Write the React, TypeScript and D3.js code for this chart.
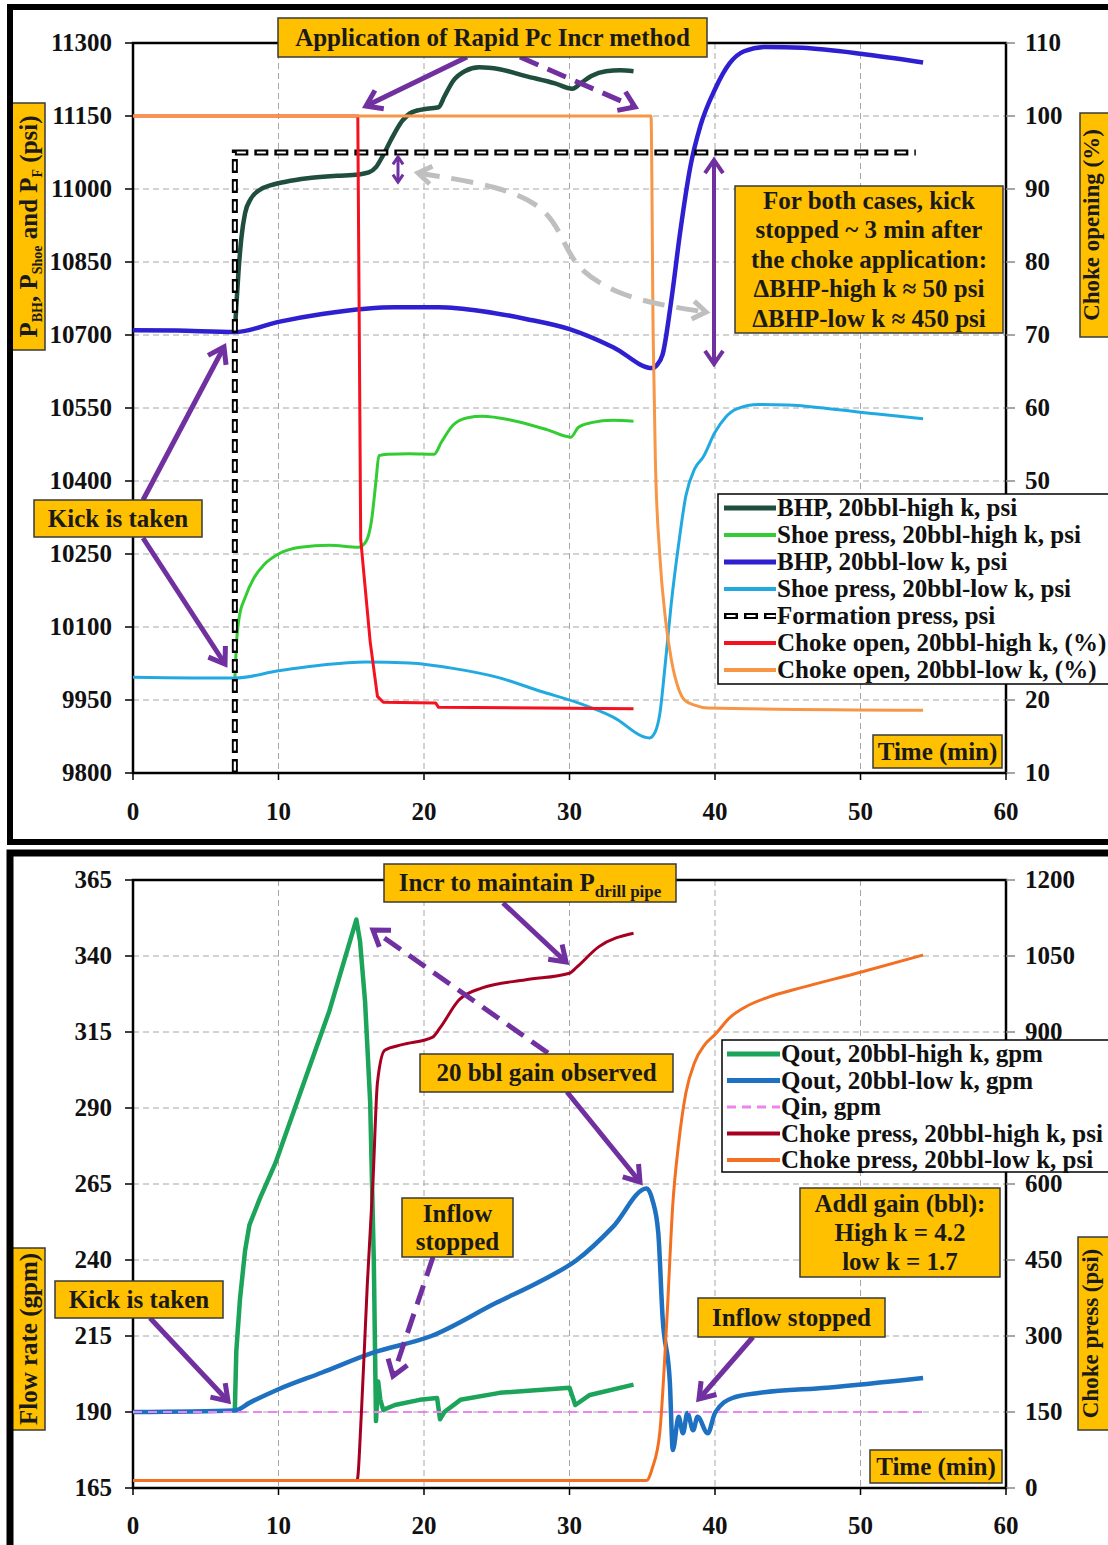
import React from 'react';
import * as d3 from 'd3';

type P = [number, number];

// ---------------- DATA ----------------
const xTicks = [0, 10, 20, 30, 40, 50, 60];
const topLeftTicks = [9800, 9950, 10100, 10250, 10400, 10550, 10700, 10850, 11000, 11150, 11300];
const topRightTicks = [10, 20, 30, 40, 50, 60, 70, 80, 90, 100, 110];
const botLeftTicks = [165, 190, 215, 240, 265, 290, 315, 340, 365];
const botRightTicks = [0, 150, 300, 450, 600, 750, 900, 1050, 1200];

// Top panel (psi, left axis)
const bhpHigh: P[] = [[7, 10704], [7.1, 10760], [7.25, 10830], [7.45, 10900], [7.7, 10950], [8.1, 10980], [8.7, 10998], [9.5, 11008], [10.5, 11015], [12, 11022], [14, 11027], [15.5, 11030], [16.2, 11034], [16.7, 11045], [17.2, 11070], [17.8, 11105], [18.5, 11140], [19.2, 11158], [20.2, 11165], [21.0, 11168], [21.4, 11190], [22.0, 11222], [22.8, 11242], [23.8, 11250], [25.2, 11246], [27, 11232], [29, 11217], [30.2, 11206], [30.8, 11218], [31.5, 11232], [32.5, 11242], [33.5, 11244], [34.4, 11242]];
const shoeHigh: P[] = [[7, 9993], [7.1, 10060], [7.3, 10120], [7.7, 10160], [8.3, 10200], [9, 10228], [10, 10250], [11.5, 10264], [13.5, 10268], [15.5, 10264], [16.0, 10275], [16.4, 10320], [16.7, 10400], [16.9, 10452], [17.5, 10455], [19, 10456], [20.7, 10455], [21.2, 10480], [22, 10515], [23, 10530], [24, 10533], [26, 10525], [28.5, 10505], [30.1, 10490], [30.6, 10510], [31.5, 10520], [33, 10525], [34.4, 10523]];
const bhpLow: P[] = [[0, 10710], [3, 10709], [7, 10706], [10, 10727], [13, 10743], [16, 10754], [18, 10757], [21, 10757], [24, 10749], [27, 10733], [30, 10712], [33, 10675], [35.7, 10632], [36.0, 10638], [36.4, 10660], [37.0, 10772], [37.6, 10910], [38.3, 11045], [39.0, 11130], [40, 11205], [41, 11258], [42, 11283], [43.5, 11292], [46, 11290], [50, 11278], [54.3, 11260]];
const shoeLow: P[] = [[0, 9997], [7, 9995], [10, 10010], [13, 10022], [16, 10028], [19, 10026], [22, 10015], [25, 9997], [28, 9968], [30.5, 9945], [33, 9915], [35.5, 9872], [35.9, 9885], [36.2, 9920], [36.6, 10030], [37.0, 10150], [37.5, 10270], [38, 10370], [38.6, 10425], [39.2, 10450], [40, 10500], [40.7, 10530], [41.5, 10548], [43, 10557], [45, 10556], [48, 10548], [51, 10538], [54.3, 10528]];
const formation: P[] = [[7, 9800], [7, 11075], [53.8, 11075]];
// Top panel (%, right axis)
const chokeHigh: P[] = [[0, 100], [15.45, 100], [15.65, 42], [16.3, 28], [16.8, 20.5], [17.2, 19.7], [20.8, 19.6], [21.0, 19.0], [34.4, 18.8]];
const chokeLow: P[] = [[0, 100], [35.6, 100], [35.75, 70], [35.9, 53], [36.2, 40], [36.6, 31], [37.0, 25.5], [37.5, 21.5], [37.9, 20.0], [38.6, 19.3], [39.5, 18.9], [54.3, 18.6]];

// Bottom panel (gpm, left axis)
const qoutHigh: P[] = [[7, 190.7], [7.1, 210], [7.35, 227], [7.7, 243], [8, 251.5], [8.7, 260], [9.8, 272], [11.5, 295], [13.5, 322], [15.35, 352], [15.6, 345], [15.95, 325], [16.3, 292], [16.55, 240], [16.7, 187], [16.85, 200], [17.0, 194], [17.2, 190.7], [18, 192.3], [19.7, 194], [20.9, 194.6], [21.1, 187.6], [21.4, 190], [22.5, 194], [25.2, 196.3], [30, 198], [30.4, 192.3], [31.4, 195.6], [34.4, 199]];
const qoutLow: P[] = [[0, 190], [7, 190.5], [8, 193], [10, 197.5], [13, 203], [16.5, 209.5], [20.5, 215], [25, 226], [28, 233], [30.5, 240], [33, 251], [35.3, 263.5], [35.7, 259.7], [36.1, 249], [36.4, 221], [36.9, 199.5], [37.1, 177.5], [37.5, 188.4], [37.8, 183], [38.1, 189.7], [38.5, 184], [38.8, 188.4], [39.5, 183], [40, 189.7], [41.2, 194.6], [43.1, 196.3], [47.7, 198], [54.3, 201.2]];
const qin: P[] = [[0, 190], [54.3, 190]];
// Bottom panel (psi, right axis)
const chokePressHigh: P[] = [[0, 15], [15.4, 15], [15.7, 150], [16.1, 400], [16.5, 610], [16.8, 800], [17.3, 864], [18.5, 875], [20.6, 890], [21.1, 908], [22.4, 963], [24, 987], [27, 1003], [30, 1016], [30.5, 1028], [32, 1068], [34.4, 1095]];
const chokePressLow: P[] = [[0, 15], [35.3, 15], [35.7, 40], [36.2, 108], [36.7, 337], [37.1, 560], [37.5, 680], [38, 780], [38.6, 840], [39.3, 875], [40, 895], [41, 928], [42, 948], [44, 972], [46, 988], [50, 1018], [54.3, 1052]];

// ---------------- STYLE / LAYOUT ----------------
const FONT = '"Liberation Serif", "Times New Roman", serif';
const FS = 25;
const C = {
  bhpHigh: '#1F4E3D', shoeHigh: '#33CC33', bhpLow: '#2E1FD1', shoeLow: '#22AAE0',
  chokeHigh: '#F5111F', chokeLow: '#F79646',
  qoutHigh: '#1BA45A', qoutLow: '#1E70C0', qin: '#EE82EE', cpHigh: '#A50021', cpLow: '#F36F21',
  box: '#FFC000', boxStroke: '#3A3A3A', purple: '#7030A0', grid: '#A6A6A6', gray: '#BFBFBF',
};

const X0 = 133, X1 = 1006;
const TOP = { y0: 43, y1: 773 };
const BOT = { y0: 880, y1: 1488 };
const TOP_LEGEND = { x0: 718, y0: 494, w: 400, h: 190 };
const BOT_LEGEND = { x0: 722, y0: 1040, w: 400, h: 132 };

const x = d3.scaleLinear().domain([0, 60]).range([X0, X1]);
const topY = d3.scaleLinear().domain([9800, 11300]).range([TOP.y1, TOP.y0]);
const topYR = d3.scaleLinear().domain([10, 110]).range([TOP.y1, TOP.y0]);
const botY = d3.scaleLinear().domain([165, 365]).range([BOT.y1, BOT.y0]);
const botYR = d3.scaleLinear().domain([0, 1200]).range([BOT.y1, BOT.y0]);

function path(data: P[], y: d3.ScaleLinear<number, number>, curve: d3.CurveFactory = d3.curveMonotoneX) {
  return d3.line<P>().x(d => x(d[0])).y(d => y(d[1])).curve(curve)(data) || '';
}

function head(px: number, py: number, ang: number, size: number) {
  const a1 = ang + Math.PI - 0.6, a2 = ang + Math.PI + 0.6;
  return `M${px + size * Math.cos(a1)},${py + size * Math.sin(a1)}L${px},${py}L${px + size * Math.cos(a2)},${py + size * Math.sin(a2)}`;
}

function Arrow({ x1, y1, x2, y2, color = C.purple, w = 5, dash, size = 18, start = false, end = true }:
  { x1: number; y1: number; x2: number; y2: number; color?: string; w?: number; dash?: string; size?: number; start?: boolean; end?: boolean }) {
  const ang = Math.atan2(y2 - y1, x2 - x1);
  return (
    <g stroke={color} strokeWidth={w} fill="none">
      <line x1={x1} y1={y1} x2={x2} y2={y2} strokeDasharray={dash} />
      {end && <path d={head(x2, y2, ang, size)} strokeLinejoin="miter" />}
      {start && <path d={head(x1, y1, ang + Math.PI, size)} strokeLinejoin="miter" />}
    </g>
  );
}

function CurvedArrow({ pts, color, w, dash, size }: { pts: P[]; color: string; w: number; dash: string; size: number }) {
  const d = d3.line<P>().curve(d3.curveBasis)(pts) || '';
  const n = pts.length;
  const aEnd = Math.atan2(pts[n - 1][1] - pts[n - 2][1], pts[n - 1][0] - pts[n - 2][0]);
  const aStart = Math.atan2(pts[0][1] - pts[1][1], pts[0][0] - pts[1][0]);
  return (
    <g stroke={color} strokeWidth={w} fill="none">
      <path d={d} strokeDasharray={dash} />
      <path d={head(pts[n - 1][0], pts[n - 1][1], aEnd, size)} />
      <path d={head(pts[0][0], pts[0][1], aStart, size)} />
    </g>
  );
}

function Box({ x0, y0, w, h, lines, pitch = 29, fs = FS }: { x0: number; y0: number; w: number; h: number; lines: React.ReactNode[]; pitch?: number; fs?: number }) {
  const cy = y0 + h / 2;
  const n = lines.length;
  return (
    <g>
      <rect x={x0} y={y0} width={w} height={h} fill={C.box} stroke={C.boxStroke} strokeWidth={1.5} />
      {lines.map((l, i) => (
        <text key={i} x={x0 + w / 2} y={cy + (i - (n - 1) / 2) * pitch + fs * 0.33} textAnchor="middle"
          fontFamily={FONT} fontWeight="bold" fontSize={fs} fill="#1a1a1a">{l}</text>
      ))}
    </g>
  );
}

function VBox({ x0, y0, w, h, off = 8, fs = FS, children }: { x0: number; y0: number; w: number; h: number; off?: number; fs?: number; children: React.ReactNode }) {
  const cx = x0 + w / 2, cy = y0 + h / 2;
  return (
    <g>
      <rect x={x0} y={y0} width={w} height={h} fill={C.box} stroke={C.boxStroke} strokeWidth={1.5} />
      <text transform={`translate(${cx + off},${cy}) rotate(-90)`} textAnchor="middle" fontFamily={FONT}
        fontWeight="bold" fontSize={fs} fill="#1a1a1a">{children}</text>
    </g>
  );
}

function FormationLine({ d }: { d: string }) {
  return (
    <g fill="none">
      <path d={d} stroke="#000" strokeWidth={6} strokeDasharray="14 6" />
      <path d={d} stroke="#fff" strokeWidth={2.2} strokeDasharray="9 11" strokeDashoffset={-2.5} />
    </g>
  );
}

type LegendItem = { label: string; color: string; w: number; dash?: string; formation?: boolean };
type Rect = { x0: number; y0: number; w: number; h: number };

function Legend({ r, items, pitch, sx0, sx1, tx }: { r: Rect; items: LegendItem[]; pitch: number; sx0: number; sx1: number; tx: number }) {
  return (
    <g>
      <rect x={r.x0} y={r.y0} width={r.w} height={r.h} fill="#fff" stroke="#000" strokeWidth={1.5} />
      {items.map((it, i) => {
        const cy = r.y0 + 14 + i * pitch;
        return (
          <g key={i}>
            {it.formation
              ? <FormationLine d={`M${sx0},${cy}L${sx1},${cy}`} />
              : <line x1={sx0} x2={sx1} y1={cy} y2={cy} stroke={it.color} strokeWidth={it.w} strokeDasharray={it.dash} />}
            <text x={tx} y={cy + 8} fontFamily={FONT} fontWeight="bold" fontSize={FS} fill="#111">{it.label}</text>
          </g>
        );
      })}
    </g>
  );
}

function Frame({ yL, yR, leftTicks, rightTicks, y0, y1, xLabelY, legend }: {
  yL: d3.ScaleLinear<number, number>; yR: d3.ScaleLinear<number, number>; leftTicks: number[]; rightTicks: number[]; y0: number; y1: number; xLabelY: number; legend: Rect;
}) {
  // right-axis labels lying underneath the legend box are hidden (as in the source figure)
  const visibleRight = rightTicks.filter(t => {
    const yy = yR(t);
    return !(yy - 8 > legend.y0 && yy + 8 < legend.y0 + legend.h);
  });
  return (
    <g>
      {leftTicks.slice(1, -1).map(t => (
        <line key={'h' + t} x1={X0} x2={X1} y1={yL(t)} y2={yL(t)} stroke={C.grid} strokeWidth={1} strokeDasharray="6 4" />
      ))}
      {xTicks.slice(1, -1).map(t => (
        <line key={'v' + t} x1={x(t)} x2={x(t)} y1={y0} y2={y1} stroke={C.grid} strokeWidth={1} strokeDasharray="6 4" />
      ))}
      <rect x={X0} y={y0} width={X1 - X0} height={y1 - y0} fill="none" stroke="#000" strokeWidth={2.5} />
      {leftTicks.map(t => (
        <g key={'l' + t}>
          <line x1={X0 - 8} x2={X0} y1={yL(t)} y2={yL(t)} stroke="#000" strokeWidth={1.5} />
          <text x={112} y={yL(t) + 8} textAnchor="end" fontFamily={FONT} fontWeight="bold" fontSize={FS} fill="#111">{t}</text>
        </g>
      ))}
      {rightTicks.map(t => (
        <line key={'rt' + t} x1={X1} x2={X1 + 9} y1={yR(t)} y2={yR(t)} stroke="#888" strokeWidth={1.5} />
      ))}
      {visibleRight.map(t => (
        <text key={'r' + t} x={1025} y={yR(t) + 8} textAnchor="start" fontFamily={FONT} fontWeight="bold" fontSize={FS} fill="#111">{t}</text>
      ))}
      {xTicks.map(t => (
        <g key={'x' + t}>
          <line x1={x(t)} x2={x(t)} y1={y1} y2={y1 + 7} stroke="#000" strokeWidth={1.5} />
          <text x={x(t)} y={xLabelY} textAnchor="middle" fontFamily={FONT} fontWeight="bold" fontSize={FS} fill="#111">{t}</text>
        </g>
      ))}
    </g>
  );
}

export default function App() {
  const topLegend: LegendItem[] = [
    { label: 'BHP, 20bbl-high k, psi', color: C.bhpHigh, w: 5 },
    { label: 'Shoe press, 20bbl-high k, psi', color: C.shoeHigh, w: 4 },
    { label: 'BHP, 20bbl-low k, psi', color: C.bhpLow, w: 5 },
    { label: 'Shoe press, 20bbl-low k, psi', color: C.shoeLow, w: 4 },
    { label: 'Formation press, psi', color: '#000', w: 4, formation: true },
    { label: 'Choke open, 20bbl-high k, (%)', color: C.chokeHigh, w: 4 },
    { label: 'Choke open, 20bbl-low k, (%)', color: C.chokeLow, w: 4 },
  ];
  const botLegend: LegendItem[] = [
    { label: 'Qout, 20bbl-high k, gpm', color: C.qoutHigh, w: 5 },
    { label: 'Qout, 20bbl-low k, gpm', color: C.qoutLow, w: 5 },
    { label: 'Qin, gpm', color: C.qin, w: 3, dash: '9 6' },
    { label: 'Choke press, 20bbl-high k, psi', color: C.cpHigh, w: 4 },
    { label: 'Choke press, 20bbl-low k, psi', color: C.cpLow, w: 4 },
  ];

  return (
    <div style={{ position: 'absolute', left: 0, top: 0, width: 1108, height: 1545, overflow: 'hidden', background: '#fff' }}>
      <svg width={1108} height={1545} viewBox="0 0 1108 1545">
        <rect x={0} y={0} width={1108} height={1545} fill="#fff" />

        {/* ========== TOP PANEL ========== */}
        <Frame yL={topY} yR={topYR} leftTicks={topLeftTicks} rightTicks={topRightTicks} y0={TOP.y0} y1={TOP.y1} xLabelY={820} legend={TOP_LEGEND} />
        <g fill="none" strokeLinejoin="round">
          <path d={path(bhpHigh, topY)} stroke={C.bhpHigh} strokeWidth={4.5} />
          <path d={path(shoeHigh, topY)} stroke={C.shoeHigh} strokeWidth={3} />
          <path d={path(bhpLow, topY)} stroke={C.bhpLow} strokeWidth={4.5} />
          <path d={path(shoeLow, topY)} stroke={C.shoeLow} strokeWidth={3} />
        </g>
        <FormationLine d={path(formation, topY, d3.curveLinear)} />
        <g fill="none" strokeLinejoin="round">
          <path d={path(chokeHigh, topYR, d3.curveLinear)} stroke={C.chokeHigh} strokeWidth={3} />
          <path d={path(chokeLow, topYR)} stroke={C.chokeLow} strokeWidth={3} />
        </g>

        <Legend r={TOP_LEGEND} items={topLegend} pitch={27} sx0={724} sx1={776} tx={777} />

        {/* top annotations */}
        <Arrow x1={467} y1={57} x2={366} y2={106} />
        <Arrow x1={520} y1={57} x2={635} y2={107} dash="20 10" />
        <Arrow x1={398} y1={157} x2={398} y2={182} w={3} size={9} start />
        <Arrow x1={714} y1={160} x2={714} y2={364} w={4} size={16} start />
        <CurvedArrow pts={[[418, 173], [500, 186], [548, 208], [565, 245], [580, 272], [620, 295], [665, 306], [706, 312]]} color={C.gray} w={5} dash="22 12" size={16} />
        <Arrow x1={143} y1={500} x2={224} y2={347} />
        <Arrow x1={143} y1={538} x2={225} y2={664} />

        <Box x0={278} y0={18} w={429} h={39} lines={['Application of Rapid Pc Incr method']} />
        <Box x0={735} y0={186} w={268} h={147} pitch={29.5} lines={['For both cases, kick', 'stopped ~ 3 min after', 'the choke application:', '\u0394BHP-high k \u2248 50 psi', '\u0394BHP-low k \u2248 450 psi']} />
        <Box x0={34} y0={500} w={168} h={37} lines={['Kick is taken']} />
        <Box x0={873} y0={735} w={129} h={33} lines={['Time (min)']} />
        <VBox x0={12} y0={103} w={33} h={247}>
          {'P'}<tspan fontSize={14} dy={5}>{'BH'}</tspan><tspan dy={-5}>{', P'}</tspan><tspan fontSize={14} dy={5}>{'Shoe'}</tspan><tspan dy={-5}>{' and P'}</tspan><tspan fontSize={14} dy={5}>{'F'}</tspan><tspan dy={-5}>{' (psi)'}</tspan>
        </VBox>
        <VBox x0={1080} y0={113} w={30} h={224} off={4} fs={23}>{'Choke opening (%)'}</VBox>

        {/* ========== BOTTOM PANEL ========== */}
        <Frame yL={botY} yR={botYR} leftTicks={botLeftTicks} rightTicks={botRightTicks} y0={BOT.y0} y1={BOT.y1} xLabelY={1534} legend={BOT_LEGEND} />
        <g fill="none" strokeLinejoin="round">
          <path d={path(qoutHigh, botY, d3.curveLinear)} stroke={C.qoutHigh} strokeWidth={4.5} />
          <path d={path(qoutLow, botY)} stroke={C.qoutLow} strokeWidth={4.5} />
          <path d={path(qin, botY, d3.curveLinear)} stroke={C.qin} strokeWidth={2} strokeDasharray="9 6" />
          <path d={path(chokePressHigh, botYR)} stroke={C.cpHigh} strokeWidth={3} />
          <path d={path(chokePressLow, botYR)} stroke={C.cpLow} strokeWidth={3} />
        </g>

        <Legend r={BOT_LEGEND} items={botLegend} pitch={26.5} sx0={727} sx1={780} tx={781} />

        {/* bottom annotations */}
        <Arrow x1={503} y1={903} x2={566} y2={962} />
        <Arrow x1={548} y1={1053} x2={373} y2={930} dash="20 10" />
        <Arrow x1={567} y1={1092} x2={640} y2={1182} />
        <Arrow x1={433} y1={1257} x2={393} y2={1376} dash="20 10" />
        <Arrow x1={150} y1={1318} x2={228} y2={1401} />
        <Arrow x1={753} y1={1337} x2={699} y2={1399} />

        <Box x0={384} y0={864} w={292} h={38} lines={[<>{'Incr to maintain P'}<tspan fontSize={17} dy={6}>{'drill pipe'}</tspan></>]} />
        <Box x0={420} y0={1054} w={253} h={38} lines={['20 bbl gain observed']} />
        <Box x0={402} y0={1198} w={111} h={59} pitch={28} lines={['Inflow', 'stopped']} />
        <Box x0={55} y0={1281} w={168} h={37} lines={['Kick is taken']} />
        <Box x0={800} y0={1188} w={200} h={89} pitch={29} lines={['Addl gain (bbl):', 'High k = 4.2', 'low k = 1.7']} />
        <Box x0={698} y0={1298} w={187} h={39} lines={['Inflow stopped']} />
        <Box x0={870} y0={1450} w={132} h={33} lines={['Time (min)']} />
        <VBox x0={12} y0={1248} w={33} h={182}>{'Flow rate (gpm)'}</VBox>
        <VBox x0={1078} y0={1237} w={32} h={193} off={4} fs={23}>{'Choke press (psi)'}</VBox>

        {/* outer frames */}
        <rect x={10} y={7} width={1110} height={835} fill="none" stroke="#000" strokeWidth={6} />
        <rect x={10} y={853} width={1110} height={720} fill="none" stroke="#000" strokeWidth={7} />
      </svg>
    </div>
  );
}
